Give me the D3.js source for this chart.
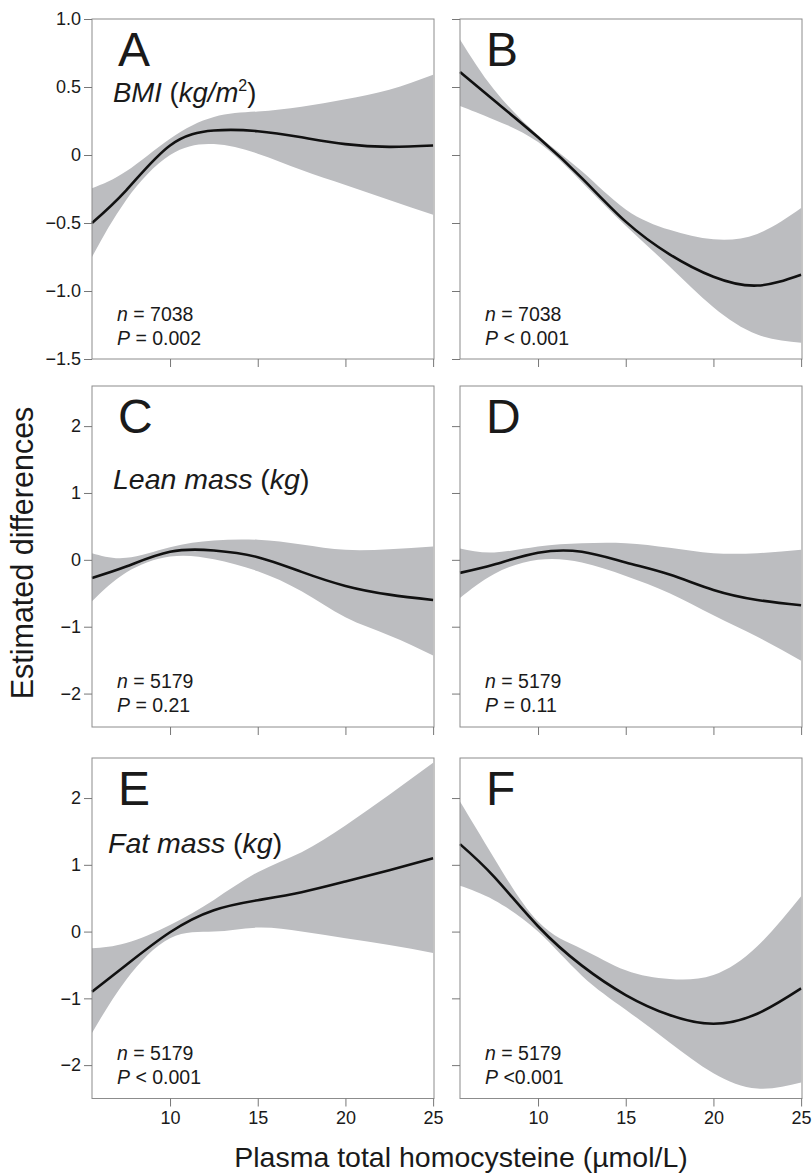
<!DOCTYPE html>
<html>
<head>
<meta charset="utf-8">
<script src="https://cdn.jsdelivr.net/npm/d3@7"></script>
<style>
  body { margin: 0; background: #fff; }
  svg text { font-family: "Liberation Sans", Arial, Helvetica, sans-serif; fill: #1a1a1a; }
</style>
</head>
<body>
<div id="chart"></div>
<script>
// homocysteine grid (umol/L) at which the curves were read
var hcy = [5.55, 7.5, 10, 12.5, 15, 17.5, 20, 22.5, 25];

// A - BMI
var aFit   = [-0.50, -0.26, 0.07, 0.18, 0.175, 0.13, 0.08, 0.06, 0.07];
var aUpper = [-0.245, -0.12, 0.12, 0.28, 0.32, 0.355, 0.41, 0.48, 0.59];
var aLower = [-0.75, -0.33, 0.00, 0.08, 0.01, -0.11, -0.22, -0.33, -0.44];
// B - BMI
var bFit   = [0.61, 0.40, 0.13, -0.17, -0.49, -0.73, -0.895, -0.96, -0.88];
var bUpper = [0.85, 0.48, 0.145, -0.12, -0.40, -0.55, -0.62, -0.58, -0.39];
var bLower = [0.36, 0.26, 0.095, -0.20, -0.52, -0.82, -1.12, -1.32, -1.38];
// C - lean mass
var cFit   = [-0.27, -0.10, 0.12, 0.14, 0.04, -0.18, -0.39, -0.52, -0.60];
var cUpper = [0.10, 0.03, 0.19, 0.29, 0.30, 0.23, 0.15, 0.16, 0.20];
var cLower = [-0.62, -0.19, 0.05, 0.01, -0.17, -0.47, -0.86, -1.13, -1.43];
// D - lean mass
var dFit   = [-0.195, -0.07, 0.105, 0.12, -0.04, -0.22, -0.45, -0.60, -0.68];
var dUpper = [0.17, 0.11, 0.20, 0.25, 0.25, 0.18, 0.10, 0.10, 0.15];
var dLower = [-0.57, -0.21, 0.00, -0.04, -0.24, -0.50, -0.83, -1.15, -1.51];
// E - fat mass
var eFit   = [-0.90, -0.50, -0.01, 0.32, 0.47, 0.59, 0.75, 0.92, 1.10];
var eUpper = [-0.25, -0.17, 0.10, 0.475, 0.89, 1.19, 1.59, 2.05, 2.53];
var eLower = [-1.52, -0.72, -0.10, 0.00, 0.06, 0.00, -0.10, -0.20, -0.32];
// F - fat mass
var fFit   = [1.31, 0.82, 0.08, -0.51, -0.95, -1.25, -1.38, -1.23, -0.85];
var fUpper = [1.95, 1.10, 0.15, -0.26, -0.58, -0.71, -0.65, -0.22, 0.53];
var fLower = [0.685, 0.47, 0.00, -0.66, -1.17, -1.66, -2.12, -2.35, -2.26];

var xTicks = [10, 15, 20, 25];
var yTicksTop = [1.0, 0.5, 0, -0.5, -1.0, -1.5];
var yTicksLow = [2, 1, 0, -1, -2];

var letters = ["A", "B", "C", "D", "E", "F"];
var nText = ["7038", "7038", "5179", "5179", "5179", "5179"];
var pText = ["= 0.002", "< 0.001", "= 0.21", "= 0.11", "< 0.001", "<0.001"];

var fits = [aFit, bFit, cFit, dFit, eFit, fFit];
var uppers = [aUpper, bUpper, cUpper, dUpper, eUpper, fUpper];
var lowers = [aLower, bLower, cLower, dLower, eLower, fLower];

var W = 812, H = 1176;
var cols = [[92, 434], [460, 802]];
var rows = [[19, 359], [386, 727], [758, 1098.5]];
var yDomains = [[-1.5, 1.0], [-2.5, 2.6], [-2.5, 2.6]];

var svg = d3.select("#chart")
    .append("svg")
    .attr("width", W)
    .attr("height", H);

function fmtTop(v) {
    if (v === 0) return "0";
    return (v < 0 ? "\u2212" : "") + Math.abs(v).toFixed(1);
}
function fmtLow(v) {
    if (v === 0) return "0";
    return (v < 0 ? "\u2212" : "") + Math.abs(v);
}

for (var i = 0; i < 6; i++) {
    var r = Math.floor(i / 2), c = i % 2;
    var x0 = cols[c][0], x1 = cols[c][1];
    var y0 = rows[r][0], y1 = rows[r][1];

    var xScale = d3.scaleLinear().domain([5.55, 25.05]).range([x0, x1]);
    var yScale = d3.scaleLinear().domain(yDomains[r]).range([y1, y0]);

    var g = svg.append("g");

    var pts = hcy.map(function (h, k) {
        return { x: h, fit: fits[i][k], lo: lowers[i][k], hi: uppers[i][k] };
    });

    var curve = d3.curveNatural;

    // confidence band
    g.append("path")
        .datum(pts)
        .attr("fill", "#bcbdc0")
        .attr("d", d3.area()
            .x(function (d) { return xScale(d.x); })
            .y0(function (d) { return yScale(d.lo); })
            .y1(function (d) { return yScale(d.hi); })
            .curve(curve));

    // fitted line
    g.append("path")
        .datum(pts)
        .attr("fill", "none")
        .attr("stroke", "#111")
        .attr("stroke-width", 2.6)
        .attr("d", d3.line()
            .x(function (d) { return xScale(d.x); })
            .y(function (d) { return yScale(d.fit); })
            .curve(curve));

    // frame
    g.append("rect")
        .attr("x", x0).attr("y", y0)
        .attr("width", x1 - x0).attr("height", y1 - y0)
        .attr("fill", "none")
        .attr("stroke", "#8c8c8c")
        .attr("stroke-width", 1);

    // y axis
    var yAxis = d3.axisLeft(yScale)
        .tickValues(r === 0 ? yTicksTop : yTicksLow)
        .tickSize(8)
        .tickPadding(3)
        .tickFormat(c === 0 ? (r === 0 ? fmtTop : fmtLow) : "");
    var ya = g.append("g")
        .attr("transform", "translate(" + x0 + ",0)")
        .call(yAxis);
    ya.select(".domain").remove();
    ya.selectAll("line").attr("stroke", "#777");
    ya.selectAll("text").attr("font-size", "18px").style("font-family", null);

    // x axis
    var xAxis = d3.axisBottom(xScale)
        .tickValues(xTicks)
        .tickSize(8)
        .tickPadding(5)
        .tickFormat(r === 2 ? d3.format("d") : "");
    var xa = g.append("g")
        .attr("transform", "translate(0," + y1 + ")")
        .call(xAxis);
    xa.select(".domain").remove();
    xa.selectAll("line").attr("stroke", "#777");
    xa.selectAll("text").attr("font-size", "18px").style("font-family", null);

    // panel letter
    g.append("text")
        .attr("x", x0 + 26)
        .attr("y", y0 + 47)
        .attr("font-size", "48px")
        .text(letters[i]);

    // n and P
    var nt = g.append("text")
        .attr("x", x0 + 25)
        .attr("y", y0 + 302)
        .attr("font-size", "19.5px");
    nt.append("tspan").attr("font-style", "italic").text("n");
    nt.append("tspan").text(" = " + nText[i]);

    var pt = g.append("text")
        .attr("x", x0 + 25)
        .attr("y", y0 + 326)
        .attr("font-size", "19.5px");
    pt.append("tspan").attr("font-style", "italic").text("P");
    pt.append("tspan").text(" " + pText[i]);
}

// outcome labels in left column
var lab1 = svg.append("text").attr("x", 113).attr("y", 102).attr("font-size", "27.5px");
lab1.append("tspan").attr("font-style", "italic").text("BMI");
lab1.append("tspan").text(" (");
lab1.append("tspan").attr("font-style", "italic").text("kg/m");
lab1.append("tspan").attr("font-size", "16px").attr("dy", "-11").text("2");
lab1.append("tspan").attr("dy", "11").text(")");

var lab2 = svg.append("text").attr("x", 113).attr("y", 489).attr("font-size", "28.5px");
lab2.append("tspan").attr("font-style", "italic").text("Lean mass");
lab2.append("tspan").text(" (");
lab2.append("tspan").attr("font-style", "italic").text("kg");
lab2.append("tspan").text(")");

var lab3 = svg.append("text").attr("x", 108).attr("y", 853).attr("font-size", "28.5px");
lab3.append("tspan").attr("font-style", "italic").text("Fat mass");
lab3.append("tspan").text(" (");
lab3.append("tspan").attr("font-style", "italic").text("kg");
lab3.append("tspan").text(")");

// axis titles
svg.append("text")
    .attr("transform", "translate(33,553) rotate(-90)")
    .attr("text-anchor", "middle")
    .attr("font-size", "30.5px")
    .text("Estimated differences");

svg.append("text")
    .attr("x", 461)
    .attr("y", 1167)
    .attr("text-anchor", "middle")
    .attr("font-size", "28.5px")
    .text("Plasma total homocysteine (\u00b5mol/L)");
</script>
</body>
</html>
